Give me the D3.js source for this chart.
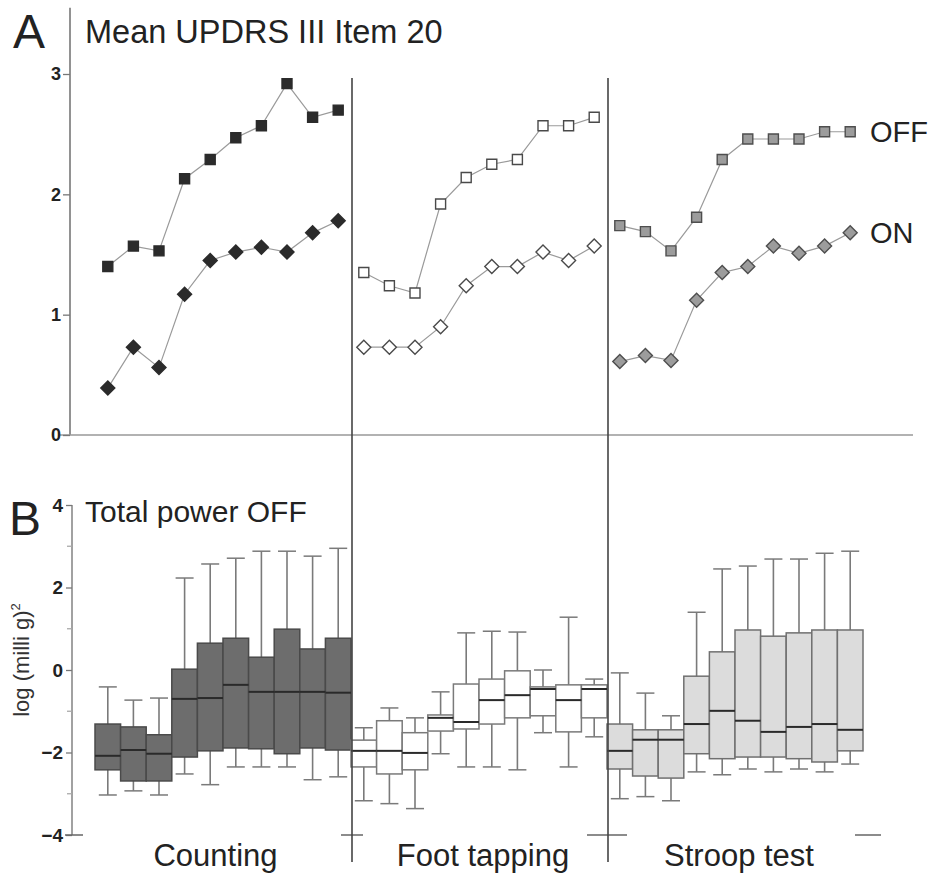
<!DOCTYPE html>
<html>
<head>
<meta charset="utf-8">
<script src="https://cdn.jsdelivr.net/npm/d3@7"></script>
<style>
  html, body { margin: 0; padding: 0; background: #fff; }
  svg { display: block; font-family: "Liberation Sans", Arial, Helvetica, sans-serif; }
</style>
</head>
<body>
<svg id="chart" width="933" height="873"></svg>
<script>
// Tasks, 10 consecutive epochs each
const tasks = ["Counting", "Foot tapping", "Stroop test"];
const epochs = d3.range(10);

// Mean UPDRS III item 20 per epoch
const offCounting = [1.40, 1.57, 1.53, 2.13, 2.29, 2.47, 2.57, 2.92, 2.64, 2.70];
const onCounting  = [0.39, 0.73, 0.56, 1.17, 1.45, 1.52, 1.56, 1.52, 1.68, 1.78];
const offFoot     = [1.35, 1.24, 1.18, 1.92, 2.14, 2.25, 2.29, 2.57, 2.57, 2.64];
const onFoot      = [0.73, 0.73, 0.73, 0.90, 1.24, 1.40, 1.40, 1.52, 1.45, 1.57];
const offStroop   = [1.74, 1.69, 1.53, 1.81, 2.29, 2.46, 2.46, 2.46, 2.52, 2.52];
const onStroop    = [0.61, 0.66, 0.62, 1.12, 1.35, 1.40, 1.57, 1.51, 1.57, 1.68];

// Total power OFF, log (milli g)^2: [min, q1, median, q3, max]
const boxCounting = [
  [-3.03, -2.42, -2.08, -1.31, -0.41],
  [-2.93, -2.69, -1.94, -1.38, -0.73],
  [-3.03, -2.69, -2.03, -1.57, -0.68],
  [-2.52, -2.11, -0.70,  0.02,  2.23],
  [-2.78, -1.96, -0.68,  0.65,  2.57],
  [-2.35, -1.89, -0.36,  0.77,  2.71],
  [-2.35, -1.91, -0.53,  0.31,  2.88],
  [-2.35, -2.03, -0.53,  0.99,  2.88],
  [-2.66, -1.89, -0.53,  0.51,  2.76],
  [-2.59, -1.94, -0.55,  0.77,  2.95]
];
const boxFoot = [
  [-3.17, -2.35, -1.96, -1.70, -1.40],
  [-3.24, -2.52, -1.96, -1.23, -0.92],
  [-3.36, -2.42, -2.01, -1.52, -1.16],
  [-2.03, -1.48, -1.16, -1.09, -0.53],
  [-2.35, -1.43, -1.26, -0.34,  0.90],
  [-2.35, -1.31, -0.73, -0.22,  0.94],
  [-2.42, -1.16, -0.61, -0.02,  0.92],
  [-1.52, -1.11, -0.46, -0.41,  0.00],
  [-2.35, -1.50, -0.73, -0.36,  1.28],
  [-1.62, -1.16, -0.46, -0.36, -0.22]
];
const boxStroop = [
  [-3.12, -2.40, -1.96, -1.31, -0.07],
  [-3.07, -2.57, -1.69, -1.45, -0.56],
  [-3.17, -2.62, -1.69, -1.45, -1.11],
  [-2.47, -2.03, -1.31, -0.15,  1.40],
  [-2.54, -2.15, -0.99,  0.44,  2.45],
  [-2.40, -2.11, -1.23,  0.97,  2.52],
  [-2.47, -2.11, -1.50,  0.82,  2.69],
  [-2.40, -2.15, -1.38,  0.90,  2.69],
  [-2.47, -2.23, -1.31,  0.97,  2.83],
  [-2.28, -1.96, -1.45,  0.97,  2.88]
];

const ticksA = [0, 1, 2, 3];
const ticksB = [-4, -2, 0, 2, 4];
const minorTicksB = [-3, -1, 1, 3];

// Per-task styling
const taskStyle = [
  { markFill: "#2b2b2b", markStroke: "#2b2b2b", boxFill: "#6d6d6d", boxStroke: "#4a4a4a" },
  { markFill: "#ffffff", markStroke: "#4a4a4a", boxFill: "#ffffff", boxStroke: "#7a7a7a" },
  { markFill: "#9c9c9c", markStroke: "#4e4e4e", boxFill: "#dcdcdc", boxStroke: "#707070" }
];
const meansOff = [offCounting, offFoot, offStroop];
const meansOn = [onCounting, onFoot, onStroop];
const boxes = [boxCounting, boxFoot, boxStroop];

const svg = d3.select("#chart");

// Shared x scale over all 30 epochs
const slots = d3.range(tasks.length * epochs.length);
const x = d3.scaleBand().domain(slots).range([95, 863]).padding(0);
const xc = i => x(i) + x.bandwidth() / 2;
const boundary = k => x.range()[0] + k * epochs.length * x.step();

const yA = d3.scaleLinear().domain([0, 3]).range([435, 74]);
const yB = d3.scaleLinear().domain([-4, 4]).range([835, 505]);

const axisXA = 70, axisXB = 72;

// ---------- Panel A ----------
const gA = svg.append("g");

gA.append("line")
  .attr("x1", axisXA).attr("x2", axisXA)
  .attr("y1", yA(3.55)).attr("y2", yA(0))
  .attr("stroke", "#777").attr("stroke-width", 1.6);
gA.append("line")
  .attr("x1", 60).attr("x2", 913)
  .attr("y1", yA(0)).attr("y2", yA(0))
  .attr("stroke", "#999").attr("stroke-width", 1.3);

const axA = gA.append("g")
  .attr("transform", `translate(${axisXA},0)`)
  .call(d3.axisLeft(yA).tickValues(ticksA).tickFormat(d3.format("d")).tickSize(7).tickPadding(2));
axA.select(".domain").remove();
axA.selectAll(".tick line").attr("stroke", "#777").attr("stroke-width", 1.3);
axA.selectAll(".tick text")
  .attr("font-size", 18).attr("font-weight", "bold").attr("fill", "#222")
  .attr("font-family", "Liberation Sans, Arial, sans-serif");

const diamond = r => `M0,${-r}L${r},0L0,${r}L${-r},0Z`;
const square = s => `M${-s},${-s}H${s}V${s}H${-s}Z`;

tasks.forEach((t, k) => {
  const st = taskStyle[k];
  const line = d3.line().x((d, i) => xc(k * 10 + i)).y(d => yA(d));
  [meansOff[k], meansOn[k]].forEach(series => {
    gA.append("path").datum(series)
      .attr("d", line).attr("fill", "none")
      .attr("stroke", "#9a9a9a").attr("stroke-width", 1.2);
  });
  gA.selectAll(null).data(meansOff[k]).join("path")
    .attr("transform", (d, i) => `translate(${xc(k * 10 + i)},${yA(d)})`)
    .attr("d", square(5))
    .attr("fill", st.markFill).attr("stroke", st.markStroke).attr("stroke-width", 1.4);
  gA.selectAll(null).data(meansOn[k]).join("path")
    .attr("transform", (d, i) => `translate(${xc(k * 10 + i)},${yA(d)})`)
    .attr("d", diamond(7))
    .attr("fill", st.markFill).attr("stroke", st.markStroke).attr("stroke-width", 1.4);
});

gA.append("text").attr("x", 870).attr("y", yA(offStroop[9]) + 10)
  .attr("font-size", 29).attr("fill", "#222").text("OFF");
gA.append("text").attr("x", 870).attr("y", yA(onStroop[9]) + 10)
  .attr("font-size", 29).attr("fill", "#222").text("ON");

svg.append("text").attr("x", 13).attr("y", 48)
  .attr("font-size", 48).attr("fill", "#222").text("A");
svg.append("text").attr("x", 85).attr("y", 43)
  .attr("font-size", 32.5).attr("fill", "#222").text("Mean UPDRS III Item 20");

// ---------- Panel B ----------
const gB = svg.append("g");

gB.append("line")
  .attr("x1", axisXB).attr("x2", axisXB)
  .attr("y1", yB(4)).attr("y2", yB(-4))
  .attr("stroke", "#8a8a8a").attr("stroke-width", 1.6);

const axB = gB.append("g")
  .attr("transform", `translate(${axisXB},0)`)
  .call(d3.axisLeft(yB).tickValues(ticksB).tickFormat(d3.format("d")).tickSize(6).tickPadding(3));
axB.select(".domain").remove();
axB.selectAll(".tick line").attr("stroke", "#777").attr("stroke-width", 1.3);
axB.selectAll(".tick text")
  .attr("font-size", 19).attr("font-weight", "bold").attr("fill", "#222")
  .attr("font-family", "Liberation Sans, Arial, sans-serif");

gB.selectAll(null).data(minorTicksB).join("line")
  .attr("x1", axisXB - 5).attr("x2", axisXB)
  .attr("y1", d => yB(d)).attr("y2", d => yB(d))
  .attr("stroke", "#aaa").attr("stroke-width", 1.3);

// Broken baseline: short marks at the axis, task boundaries and the end
const baseMarks = [
  [axisXB - 7, axisXB + 11],
  [boundary(1) - 10, boundary(1) + 12],
  [boundary(2) - 20, boundary(2) + 20],
  [boundary(3) - 8, boundary(3) + 18]
];
gB.selectAll(null).data(baseMarks).join("line")
  .attr("x1", d => d[0]).attr("x2", d => d[1])
  .attr("y1", yB(-4)).attr("y2", yB(-4))
  .attr("stroke", "#666").attr("stroke-width", 1.5);

const capHalf = 9;
tasks.forEach((t, k) => {
  const st = taskStyle[k];
  const g = gB.append("g");
  const items = boxes[k].map((b, i) => ({ b, i: k * 10 + i }));
  // whiskers
  g.selectAll(null).data(items).join("line")
    .attr("x1", d => xc(d.i)).attr("x2", d => xc(d.i))
    .attr("y1", d => yB(d.b[4])).attr("y2", d => yB(d.b[0]))
    .attr("stroke", "#7a7a7a").attr("stroke-width", 1.6);
  g.selectAll(null).data(items.flatMap(d => [{ i: d.i, v: d.b[0] }, { i: d.i, v: d.b[4] }])).join("line")
    .attr("x1", d => xc(d.i) - capHalf).attr("x2", d => xc(d.i) + capHalf)
    .attr("y1", d => yB(d.v)).attr("y2", d => yB(d.v))
    .attr("stroke", "#7a7a7a").attr("stroke-width", 1.5);
  // boxes
  g.selectAll(null).data(items).join("rect")
    .attr("x", d => x(d.i)).attr("width", x.bandwidth())
    .attr("y", d => yB(d.b[3])).attr("height", d => yB(d.b[1]) - yB(d.b[3]))
    .attr("fill", st.boxFill).attr("stroke", st.boxStroke).attr("stroke-width", 1.5);
  // medians
  g.selectAll(null).data(items).join("line")
    .attr("x1", d => x(d.i)).attr("x2", d => x(d.i) + x.bandwidth())
    .attr("y1", d => yB(d.b[2])).attr("y2", d => yB(d.b[2]))
    .attr("stroke", "#2a2a2a").attr("stroke-width", 2);
});

// Task labels, centred between the boundaries of each task
svg.selectAll(null).data(tasks).join("text")
  .attr("x", (d, k) => ((k === 0 ? axisXB : boundary(k)) + boundary(k + 1)) / 2 + 4)
  .attr("y", 866)
  .attr("text-anchor", "middle")
  .attr("font-size", 31).attr("fill", "#222")
  .text(d => d);

// Dividers between tasks, through both panels
svg.selectAll(null).data([1, 2]).join("line")
  .attr("x1", d => boundary(d) + 1).attr("x2", d => boundary(d) + 1)
  .attr("y1", 78).attr("y2", 862)
  .attr("stroke", "#444").attr("stroke-width", 1.6);

svg.append("text").attr("x", 9).attr("y", 535)
  .attr("font-size", 48).attr("fill", "#222").text("B");
svg.append("text").attr("x", 85).attr("y", 522)
  .attr("font-size", 30).attr("fill", "#222").text("Total power OFF");

const yl = svg.append("text")
  .attr("transform", "translate(29,660) rotate(-90)")
  .attr("text-anchor", "middle")
  .attr("font-size", 22).attr("fill", "#333");
yl.append("tspan").text("log (milli g)");
yl.append("tspan").attr("font-size", 13).attr("dy", -9).text("2");
</script>
</body>
</html>
